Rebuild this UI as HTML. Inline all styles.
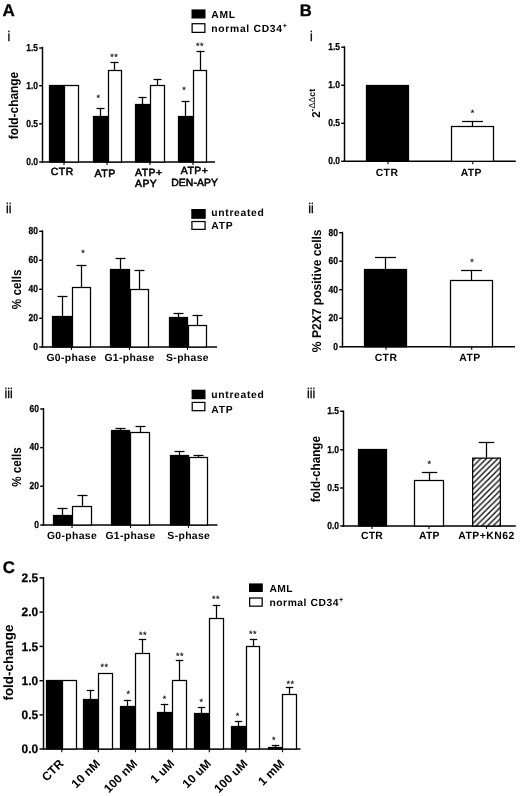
<!DOCTYPE html>
<html><head><meta charset="utf-8"><title>Figure</title>
<style>
html,body{margin:0;padding:0;background:#fff;}
body{width:520px;height:796px;overflow:hidden;font-family:"Liberation Sans",sans-serif;}
svg{display:block;will-change:transform;}
svg text{font-family:"Liberation Sans",sans-serif;fill:#000;text-rendering:geometricPrecision;}
</style></head><body>
<svg width="520" height="796" viewBox="0 0 520 796">
<rect x="0" y="0" width="520" height="796" fill="#fff"/>
<text transform="translate(2.5 16.2)" font-size="17" font-weight="bold" text-anchor="start" stroke="#000" stroke-width="0.3">A</text>
<text transform="translate(8.9 41.1) scale(0.88 1)" font-size="14" font-weight="normal" text-anchor="middle" stroke="#000" stroke-width="0.3">i</text>
<line x1="42.5" y1="46.775" x2="42.5" y2="162.725" stroke="#000" stroke-width="1.45"/>
<line x1="41.775" y1="162" x2="215" y2="162" stroke="#000" stroke-width="1.45"/>
<line x1="39.2" y1="48" x2="42.5" y2="48" stroke="#000" stroke-width="1.45"/>
<text transform="translate(38.0 50.84) scale(0.84 1)" font-size="10.1" font-weight="bold" text-anchor="end" stroke="#000" stroke-width="0.25">1.5</text>
<line x1="39.2" y1="85.7" x2="42.5" y2="85.7" stroke="#000" stroke-width="1.45"/>
<text transform="translate(38.0 88.54) scale(0.84 1)" font-size="10.1" font-weight="bold" text-anchor="end" stroke="#000" stroke-width="0.25">1.0</text>
<line x1="39.2" y1="123.8" x2="42.5" y2="123.8" stroke="#000" stroke-width="1.45"/>
<text transform="translate(38.0 126.64) scale(0.84 1)" font-size="10.1" font-weight="bold" text-anchor="end" stroke="#000" stroke-width="0.25">0.5</text>
<line x1="39.2" y1="162" x2="42.5" y2="162" stroke="#000" stroke-width="1.45"/>
<text transform="translate(38.0 164.84) scale(0.84 1)" font-size="10.1" font-weight="bold" text-anchor="end" stroke="#000" stroke-width="0.25">0.0</text>
<text transform="translate(18.2 105.5) rotate(-90) scale(0.915 1)" font-size="13" font-weight="bold" text-anchor="middle">fold-change</text>
<rect x="49.5" y="85.5" width="15.0" height="76.5" fill="#000" stroke="#000" stroke-width="1.25"/>
<rect x="64.5" y="85.5" width="14.0" height="76.5" fill="#fff" stroke="#000" stroke-width="1.25"/>
<line x1="100.5" y1="116.3" x2="100.5" y2="107.875" stroke="#000" stroke-width="1.25"/>
<line x1="96.5" y1="108.5" x2="104.5" y2="108.5" stroke="#000" stroke-width="1.25"/>
<rect x="93.5" y="116.5" width="14.0" height="45.5" fill="#000" stroke="#000" stroke-width="1.25"/>
<line x1="114.5" y1="70.5" x2="114.5" y2="61.875" stroke="#000" stroke-width="1.25"/>
<line x1="110.5" y1="62.5" x2="118.5" y2="62.5" stroke="#000" stroke-width="1.25"/>
<rect x="108.5" y="70.5" width="13.0" height="91.5" fill="#fff" stroke="#000" stroke-width="1.25"/>
<line x1="142.5" y1="104.8" x2="142.5" y2="96.875" stroke="#000" stroke-width="1.25"/>
<line x1="138.5" y1="97.5" x2="146.5" y2="97.5" stroke="#000" stroke-width="1.25"/>
<rect x="135.5" y="104.5" width="14.0" height="57.5" fill="#000" stroke="#000" stroke-width="1.25"/>
<line x1="157.5" y1="85.5" x2="157.5" y2="78.875" stroke="#000" stroke-width="1.25"/>
<line x1="153.5" y1="79.5" x2="161.5" y2="79.5" stroke="#000" stroke-width="1.25"/>
<rect x="150.5" y="85.5" width="14.0" height="76.5" fill="#fff" stroke="#000" stroke-width="1.25"/>
<line x1="185.5" y1="116.3" x2="185.5" y2="100.875" stroke="#000" stroke-width="1.25"/>
<line x1="181.5" y1="101.5" x2="189.5" y2="101.5" stroke="#000" stroke-width="1.25"/>
<rect x="178.5" y="116.5" width="14.0" height="45.5" fill="#000" stroke="#000" stroke-width="1.25"/>
<line x1="200.5" y1="70.5" x2="200.5" y2="50.875" stroke="#000" stroke-width="1.25"/>
<line x1="196.5" y1="51.5" x2="204.5" y2="51.5" stroke="#000" stroke-width="1.25"/>
<rect x="193.5" y="70.5" width="13.0" height="91.5" fill="#fff" stroke="#000" stroke-width="1.25"/>
<line x1="64" y1="162" x2="64" y2="164.9" stroke="#000" stroke-width="1.1"/>
<line x1="107" y1="162" x2="107" y2="164.9" stroke="#000" stroke-width="1.1"/>
<line x1="150" y1="162" x2="150" y2="164.9" stroke="#000" stroke-width="1.1"/>
<line x1="193" y1="162" x2="193" y2="164.9" stroke="#000" stroke-width="1.1"/>
<text transform="translate(98.3 101.1)" font-size="9" font-weight="normal" text-anchor="middle" stroke="#000" stroke-width="0.15">*</text>
<text transform="translate(114.3 60.4)" font-size="9" font-weight="normal" text-anchor="middle" letter-spacing="0.6" stroke="#000" stroke-width="0.15">**</text>
<text transform="translate(184 93.1)" font-size="9" font-weight="normal" text-anchor="middle" stroke="#000" stroke-width="0.15">*</text>
<text transform="translate(200 49.1)" font-size="9" font-weight="normal" text-anchor="middle" letter-spacing="0.6" stroke="#000" stroke-width="0.15">**</text>
<text transform="translate(62.2 175.4)" font-size="10.4" font-weight="normal" text-anchor="middle" letter-spacing="0.5" stroke="#000" stroke-width="0.55">CTR</text>
<text transform="translate(105.2 177)" font-size="10.700000000000001" font-weight="normal" text-anchor="middle" letter-spacing="0.5" stroke="#000" stroke-width="0.55">ATP</text>
<text transform="translate(135 176.1)" font-size="10.4" font-weight="normal" text-anchor="start" letter-spacing="0.5" stroke="#000" stroke-width="0.55">ATP+</text>
<text transform="translate(135 187.3)" font-size="10.4" font-weight="normal" text-anchor="start" letter-spacing="0.5" stroke="#000" stroke-width="0.55">APY</text>
<text transform="translate(194.6 174.4)" font-size="10.4" font-weight="normal" text-anchor="middle" letter-spacing="0.5" stroke="#000" stroke-width="0.55">ATP+</text>
<text transform="translate(194.6 186.2)" font-size="10.4" font-weight="normal" text-anchor="middle" letter-spacing="0.1" stroke="#000" stroke-width="0.55">DEN-APY</text>
<rect x="192.125" y="10.025" width="12.75" height="7.85" fill="#000" stroke="#000" stroke-width="1.25"/>
<rect x="192.125" y="23.725" width="12.75" height="8.65" fill="#fff" stroke="#000" stroke-width="1.25"/>
<text transform="translate(211.3 17.9)" font-size="10.3" font-weight="bold" text-anchor="start" letter-spacing="0.7">AML</text>
<text transform="translate(211.3 32.3)" font-size="10.3" font-weight="bold" text-anchor="start" letter-spacing="0.72">normal CD34<tspan font-size="7.2" dy="-4.4">+</tspan></text>
<text transform="translate(8.8 212.5) scale(0.88 1)" font-size="14" font-weight="normal" text-anchor="middle" stroke="#000" stroke-width="0.3">ii</text>
<line x1="42.5" y1="230.275" x2="42.5" y2="347.725" stroke="#000" stroke-width="1.45"/>
<line x1="41.775" y1="347" x2="217" y2="347" stroke="#000" stroke-width="1.45"/>
<line x1="39.2" y1="231.3" x2="42.5" y2="231.3" stroke="#000" stroke-width="1.45"/>
<text transform="translate(38.0 234.14) scale(0.84 1)" font-size="10.1" font-weight="bold" text-anchor="end" stroke="#000" stroke-width="0.25">80</text>
<line x1="39.2" y1="260.3" x2="42.5" y2="260.3" stroke="#000" stroke-width="1.45"/>
<text transform="translate(38.0 263.14) scale(0.84 1)" font-size="10.1" font-weight="bold" text-anchor="end" stroke="#000" stroke-width="0.25">60</text>
<line x1="39.2" y1="289.3" x2="42.5" y2="289.3" stroke="#000" stroke-width="1.45"/>
<text transform="translate(38.0 292.14) scale(0.84 1)" font-size="10.1" font-weight="bold" text-anchor="end" stroke="#000" stroke-width="0.25">40</text>
<line x1="39.2" y1="318.3" x2="42.5" y2="318.3" stroke="#000" stroke-width="1.45"/>
<text transform="translate(38.0 321.14) scale(0.84 1)" font-size="10.1" font-weight="bold" text-anchor="end" stroke="#000" stroke-width="0.25">20</text>
<line x1="39.2" y1="347" x2="42.5" y2="347" stroke="#000" stroke-width="1.45"/>
<text transform="translate(38.0 349.84) scale(0.84 1)" font-size="10.1" font-weight="bold" text-anchor="end" stroke="#000" stroke-width="0.25">0</text>
<text transform="translate(21 289.3) rotate(-90) scale(0.9 1)" font-size="13" font-weight="bold" text-anchor="middle">% cells</text>
<line x1="62.5" y1="316" x2="62.5" y2="295.875" stroke="#000" stroke-width="1.25"/>
<line x1="57.5" y1="296.5" x2="67.5" y2="296.5" stroke="#000" stroke-width="1.25"/>
<rect x="52.5" y="316.5" width="19.0" height="30.5" fill="#000" stroke="#000" stroke-width="1.25"/>
<line x1="81.5" y1="287" x2="81.5" y2="264.875" stroke="#000" stroke-width="1.25"/>
<line x1="76.5" y1="265.5" x2="86.5" y2="265.5" stroke="#000" stroke-width="1.25"/>
<rect x="72.5" y="287.5" width="18.0" height="59.5" fill="#fff" stroke="#000" stroke-width="1.25"/>
<line x1="120.5" y1="269" x2="120.5" y2="257.875" stroke="#000" stroke-width="1.25"/>
<line x1="115.5" y1="258.5" x2="125.5" y2="258.5" stroke="#000" stroke-width="1.25"/>
<rect x="110.5" y="269.5" width="19.0" height="77.5" fill="#000" stroke="#000" stroke-width="1.25"/>
<line x1="139.5" y1="289" x2="139.5" y2="269.875" stroke="#000" stroke-width="1.25"/>
<line x1="134.5" y1="270.5" x2="144.5" y2="270.5" stroke="#000" stroke-width="1.25"/>
<rect x="130.5" y="289.5" width="18.0" height="57.5" fill="#fff" stroke="#000" stroke-width="1.25"/>
<line x1="178.5" y1="317.5" x2="178.5" y2="312.875" stroke="#000" stroke-width="1.25"/>
<line x1="173.5" y1="313.5" x2="183.5" y2="313.5" stroke="#000" stroke-width="1.25"/>
<rect x="169.5" y="317.5" width="18.0" height="29.5" fill="#000" stroke="#000" stroke-width="1.25"/>
<line x1="197.5" y1="325.5" x2="197.5" y2="314.875" stroke="#000" stroke-width="1.25"/>
<line x1="192.5" y1="315.5" x2="202.5" y2="315.5" stroke="#000" stroke-width="1.25"/>
<rect x="188.5" y="325.5" width="18.0" height="21.5" fill="#fff" stroke="#000" stroke-width="1.25"/>
<line x1="71.5" y1="347" x2="71.5" y2="349.9" stroke="#000" stroke-width="1.1"/>
<line x1="129.5" y1="347" x2="129.5" y2="349.9" stroke="#000" stroke-width="1.1"/>
<line x1="187.5" y1="347" x2="187.5" y2="349.9" stroke="#000" stroke-width="1.1"/>
<text transform="translate(83 256.3)" font-size="9" font-weight="normal" text-anchor="middle" stroke="#000" stroke-width="0.15">*</text>
<text transform="translate(71.5 361.2)" font-size="10.4" font-weight="bold" text-anchor="middle" letter-spacing="0.35">G0-phase</text>
<text transform="translate(129.5 361.2)" font-size="10.4" font-weight="bold" text-anchor="middle" letter-spacing="0.35">G1-phase</text>
<text transform="translate(187.5 361.2)" font-size="10.4" font-weight="bold" text-anchor="middle" letter-spacing="0.35">S-phase</text>
<rect x="191.925" y="209.625" width="13.15" height="8.55" fill="#000" stroke="#000" stroke-width="1.25"/>
<rect x="191.925" y="221.525" width="13.15" height="7.85" fill="#fff" stroke="#000" stroke-width="1.25"/>
<text transform="translate(211.3 215.9)" font-size="10.3" font-weight="bold" text-anchor="start" letter-spacing="0.7">untreated</text>
<text transform="translate(211.3 229.2)" font-size="10.3" font-weight="bold" text-anchor="start" letter-spacing="0.72">ATP</text>
<text transform="translate(8.7 398.4) scale(0.88 1)" font-size="14" font-weight="normal" text-anchor="middle" stroke="#000" stroke-width="0.3">iii</text>
<line x1="43.5" y1="408.075" x2="43.5" y2="525.725" stroke="#000" stroke-width="1.45"/>
<line x1="42.775" y1="525" x2="217.5" y2="525" stroke="#000" stroke-width="1.45"/>
<line x1="40.2" y1="409" x2="43.5" y2="409" stroke="#000" stroke-width="1.45"/>
<text transform="translate(39.0 411.84) scale(0.84 1)" font-size="10.1" font-weight="bold" text-anchor="end" stroke="#000" stroke-width="0.25">60</text>
<line x1="40.2" y1="447.6" x2="43.5" y2="447.6" stroke="#000" stroke-width="1.45"/>
<text transform="translate(39.0 450.44) scale(0.84 1)" font-size="10.1" font-weight="bold" text-anchor="end" stroke="#000" stroke-width="0.25">40</text>
<line x1="40.2" y1="486.3" x2="43.5" y2="486.3" stroke="#000" stroke-width="1.45"/>
<text transform="translate(39.0 489.14) scale(0.84 1)" font-size="10.1" font-weight="bold" text-anchor="end" stroke="#000" stroke-width="0.25">20</text>
<line x1="40.2" y1="525" x2="43.5" y2="525" stroke="#000" stroke-width="1.45"/>
<text transform="translate(39.0 527.84) scale(0.84 1)" font-size="10.1" font-weight="bold" text-anchor="end" stroke="#000" stroke-width="0.25">0</text>
<text transform="translate(21 467) rotate(-90) scale(0.9 1)" font-size="13" font-weight="bold" text-anchor="middle">% cells</text>
<line x1="62.5" y1="515" x2="62.5" y2="507.875" stroke="#000" stroke-width="1.25"/>
<line x1="57.5" y1="508.5" x2="67.5" y2="508.5" stroke="#000" stroke-width="1.25"/>
<rect x="53.5" y="515.5" width="18.0" height="9.5" fill="#000" stroke="#000" stroke-width="1.25"/>
<line x1="82.5" y1="506.5" x2="82.5" y2="494.875" stroke="#000" stroke-width="1.25"/>
<line x1="77.5" y1="495.5" x2="87.5" y2="495.5" stroke="#000" stroke-width="1.25"/>
<rect x="72.5" y="506.5" width="19.0" height="18.5" fill="#fff" stroke="#000" stroke-width="1.25"/>
<line x1="120.5" y1="430.5" x2="120.5" y2="427.875" stroke="#000" stroke-width="1.25"/>
<line x1="115.5" y1="428.5" x2="125.5" y2="428.5" stroke="#000" stroke-width="1.25"/>
<rect x="111.5" y="430.5" width="18.0" height="94.5" fill="#000" stroke="#000" stroke-width="1.25"/>
<line x1="140.5" y1="432.5" x2="140.5" y2="425.875" stroke="#000" stroke-width="1.25"/>
<line x1="135.5" y1="426.5" x2="145.5" y2="426.5" stroke="#000" stroke-width="1.25"/>
<rect x="130.5" y="432.5" width="19.0" height="92.5" fill="#fff" stroke="#000" stroke-width="1.25"/>
<line x1="179.5" y1="455" x2="179.5" y2="450.875" stroke="#000" stroke-width="1.25"/>
<line x1="174.5" y1="451.5" x2="184.5" y2="451.5" stroke="#000" stroke-width="1.25"/>
<rect x="170.5" y="455.5" width="18.0" height="69.5" fill="#000" stroke="#000" stroke-width="1.25"/>
<line x1="198.5" y1="457.5" x2="198.5" y2="454.875" stroke="#000" stroke-width="1.25"/>
<line x1="193.5" y1="455.5" x2="203.5" y2="455.5" stroke="#000" stroke-width="1.25"/>
<rect x="189.5" y="457.5" width="18.0" height="67.5" fill="#fff" stroke="#000" stroke-width="1.25"/>
<line x1="72" y1="525" x2="72" y2="527.9" stroke="#000" stroke-width="1.1"/>
<line x1="130.5" y1="525" x2="130.5" y2="527.9" stroke="#000" stroke-width="1.1"/>
<line x1="188.5" y1="525" x2="188.5" y2="527.9" stroke="#000" stroke-width="1.1"/>
<text transform="translate(72 538.8)" font-size="10.4" font-weight="bold" text-anchor="middle" letter-spacing="0.35">G0-phase</text>
<text transform="translate(130.5 538.8)" font-size="10.4" font-weight="bold" text-anchor="middle" letter-spacing="0.35">G1-phase</text>
<text transform="translate(188.8 538.8)" font-size="10.4" font-weight="bold" text-anchor="middle" letter-spacing="0.35">S-phase</text>
<rect x="192.225" y="390.325" width="12.65" height="8.25" fill="#000" stroke="#000" stroke-width="1.25"/>
<rect x="192.225" y="402.425" width="12.65" height="8.25" fill="#fff" stroke="#000" stroke-width="1.25"/>
<text transform="translate(211.3 398.2)" font-size="10.3" font-weight="bold" text-anchor="start" letter-spacing="0.7">untreated</text>
<text transform="translate(211.3 412.7)" font-size="10.3" font-weight="bold" text-anchor="start" letter-spacing="0.72">ATP</text>
<text transform="translate(299.7 16.1)" font-size="16.6" font-weight="bold" text-anchor="start" stroke="#000" stroke-width="0.3">B</text>
<text transform="translate(311.3 41.1) scale(0.88 1)" font-size="14" font-weight="normal" text-anchor="middle" stroke="#000" stroke-width="0.3">i</text>
<line x1="344.5" y1="46.275" x2="344.5" y2="162.025" stroke="#000" stroke-width="1.45"/>
<line x1="343.775" y1="161.3" x2="515.8" y2="161.3" stroke="#000" stroke-width="1.45"/>
<line x1="341.2" y1="47.2" x2="344.5" y2="47.2" stroke="#000" stroke-width="1.45"/>
<text transform="translate(340.0 50.04) scale(0.84 1)" font-size="10.1" font-weight="bold" text-anchor="end" stroke="#000" stroke-width="0.25">1.5</text>
<line x1="341.2" y1="85.3" x2="344.5" y2="85.3" stroke="#000" stroke-width="1.45"/>
<text transform="translate(340.0 88.14) scale(0.84 1)" font-size="10.1" font-weight="bold" text-anchor="end" stroke="#000" stroke-width="0.25">1.0</text>
<line x1="341.2" y1="123.3" x2="344.5" y2="123.3" stroke="#000" stroke-width="1.45"/>
<text transform="translate(340.0 126.14) scale(0.84 1)" font-size="10.1" font-weight="bold" text-anchor="end" stroke="#000" stroke-width="0.25">0.5</text>
<line x1="341.2" y1="161.3" x2="344.5" y2="161.3" stroke="#000" stroke-width="1.45"/>
<text transform="translate(340.0 164.14) scale(0.84 1)" font-size="10.1" font-weight="bold" text-anchor="end" stroke="#000" stroke-width="0.25">0.0</text>
<text transform="translate(320 103.4) rotate(-90)" font-size="11.5" font-weight="bold" text-anchor="middle">2<tspan font-size="8.8" dy="-5.4">-<tspan font-weight="normal">&#916;&#916;</tspan>ct</tspan></text>
<rect x="366.5" y="85.5" width="42.0" height="75.8" fill="#000" stroke="#000" stroke-width="1.25"/>
<line x1="472.5" y1="126.3" x2="472.5" y2="120.875" stroke="#000" stroke-width="1.25"/>
<line x1="462.0" y1="121.5" x2="483.0" y2="121.5" stroke="#000" stroke-width="1.25"/>
<rect x="451.5" y="126.5" width="42.0" height="34.8" fill="#fff" stroke="#000" stroke-width="1.25"/>
<line x1="388" y1="161.3" x2="388" y2="164.20000000000002" stroke="#000" stroke-width="1.1"/>
<line x1="472.8" y1="161.3" x2="472.8" y2="164.20000000000002" stroke="#000" stroke-width="1.1"/>
<text transform="translate(472.5 115.89999999999999)" font-size="9" font-weight="normal" text-anchor="middle" stroke="#000" stroke-width="0.15">*</text>
<text transform="translate(387 175.5)" font-size="10.4" font-weight="bold" text-anchor="middle" letter-spacing="0.45">CTR</text>
<text transform="translate(471.3 175.5)" font-size="10.4" font-weight="bold" text-anchor="middle" letter-spacing="0.45">ATP</text>
<text transform="translate(311.1 212.5) scale(0.88 1)" font-size="14" font-weight="normal" text-anchor="middle" stroke="#000" stroke-width="0.3">ii</text>
<line x1="342.5" y1="231.775" x2="342.5" y2="347.52500000000003" stroke="#000" stroke-width="1.45"/>
<line x1="341.775" y1="346.8" x2="515" y2="346.8" stroke="#000" stroke-width="1.45"/>
<line x1="339.2" y1="232.7" x2="342.5" y2="232.7" stroke="#000" stroke-width="1.45"/>
<text transform="translate(338.0 235.54) scale(0.84 1)" font-size="10.1" font-weight="bold" text-anchor="end" stroke="#000" stroke-width="0.25">80</text>
<line x1="339.2" y1="261.2" x2="342.5" y2="261.2" stroke="#000" stroke-width="1.45"/>
<text transform="translate(338.0 264.04) scale(0.84 1)" font-size="10.1" font-weight="bold" text-anchor="end" stroke="#000" stroke-width="0.25">60</text>
<line x1="339.2" y1="289.7" x2="342.5" y2="289.7" stroke="#000" stroke-width="1.45"/>
<text transform="translate(338.0 292.54) scale(0.84 1)" font-size="10.1" font-weight="bold" text-anchor="end" stroke="#000" stroke-width="0.25">40</text>
<line x1="339.2" y1="318.3" x2="342.5" y2="318.3" stroke="#000" stroke-width="1.45"/>
<text transform="translate(338.0 321.14) scale(0.84 1)" font-size="10.1" font-weight="bold" text-anchor="end" stroke="#000" stroke-width="0.25">20</text>
<line x1="339.2" y1="346.8" x2="342.5" y2="346.8" stroke="#000" stroke-width="1.45"/>
<text transform="translate(338.0 349.64) scale(0.84 1)" font-size="10.1" font-weight="bold" text-anchor="end" stroke="#000" stroke-width="0.25">0</text>
<text transform="translate(321.2 290.8) rotate(-90) scale(0.943 1)" font-size="12.8" font-weight="bold" text-anchor="middle">% P2X7 positive cells</text>
<line x1="385.5" y1="269.3" x2="385.5" y2="256.875" stroke="#000" stroke-width="1.25"/>
<line x1="375.0" y1="257.5" x2="396.0" y2="257.5" stroke="#000" stroke-width="1.25"/>
<rect x="364.5" y="269.5" width="42.0" height="77.3" fill="#000" stroke="#000" stroke-width="1.25"/>
<line x1="471.5" y1="280.8" x2="471.5" y2="269.875" stroke="#000" stroke-width="1.25"/>
<line x1="461.0" y1="270.5" x2="482.0" y2="270.5" stroke="#000" stroke-width="1.25"/>
<rect x="450.5" y="280.5" width="42.0" height="66.3" fill="#fff" stroke="#000" stroke-width="1.25"/>
<line x1="386" y1="346.8" x2="386" y2="349.7" stroke="#000" stroke-width="1.1"/>
<line x1="471.7" y1="346.8" x2="471.7" y2="349.7" stroke="#000" stroke-width="1.1"/>
<text transform="translate(472 264.6)" font-size="9" font-weight="normal" text-anchor="middle" stroke="#000" stroke-width="0.15">*</text>
<text transform="translate(386 360.5)" font-size="10.4" font-weight="bold" text-anchor="middle" letter-spacing="0.45">CTR</text>
<text transform="translate(470 360.5)" font-size="10.4" font-weight="bold" text-anchor="middle" letter-spacing="0.45">ATP</text>
<text transform="translate(311.2 398.4) scale(0.88 1)" font-size="14" font-weight="normal" text-anchor="middle" stroke="#000" stroke-width="0.3">iii</text>
<line x1="343.5" y1="410.575" x2="343.5" y2="526.725" stroke="#000" stroke-width="1.45"/>
<line x1="342.775" y1="526" x2="515.8" y2="526" stroke="#000" stroke-width="1.45"/>
<line x1="340.2" y1="411.3" x2="343.5" y2="411.3" stroke="#000" stroke-width="1.45"/>
<text transform="translate(339.0 414.14) scale(0.84 1)" font-size="10.1" font-weight="bold" text-anchor="end" stroke="#000" stroke-width="0.25">1.5</text>
<line x1="340.2" y1="449.8" x2="343.5" y2="449.8" stroke="#000" stroke-width="1.45"/>
<text transform="translate(339.0 452.64) scale(0.84 1)" font-size="10.1" font-weight="bold" text-anchor="end" stroke="#000" stroke-width="0.25">1.0</text>
<line x1="340.2" y1="488" x2="343.5" y2="488" stroke="#000" stroke-width="1.45"/>
<text transform="translate(339.0 490.84) scale(0.84 1)" font-size="10.1" font-weight="bold" text-anchor="end" stroke="#000" stroke-width="0.25">0.5</text>
<line x1="340.2" y1="526" x2="343.5" y2="526" stroke="#000" stroke-width="1.45"/>
<text transform="translate(339.0 528.84) scale(0.84 1)" font-size="10.1" font-weight="bold" text-anchor="end" stroke="#000" stroke-width="0.25">0.0</text>
<text transform="translate(319.6 469.2) rotate(-90) scale(0.9 1)" font-size="13" font-weight="bold" text-anchor="middle">fold-change</text>
<rect x="358.5" y="449.5" width="28.0" height="76.5" fill="#000" stroke="#000" stroke-width="1.25"/>
<line x1="429.5" y1="480.5" x2="429.5" y2="471.875" stroke="#000" stroke-width="1.25"/>
<line x1="421.75" y1="472.5" x2="437.25" y2="472.5" stroke="#000" stroke-width="1.25"/>
<rect x="414.5" y="480.5" width="29.0" height="45.5" fill="#fff" stroke="#000" stroke-width="1.25"/>
<defs><pattern id="h" width="5.7" height="5.7" patternUnits="userSpaceOnUse" patternTransform="translate(4.5 0)"><rect width="5.7" height="5.7" fill="#fff"/><path d="M-1,1 L1,-1 M-1,6.7 L6.7,-1 M4.7,6.7 L6.7,4.7" stroke="#000" stroke-width="1.3"/></pattern></defs>
<line x1="486.5" y1="457.5" x2="486.5" y2="442.5" stroke="#000" stroke-width="1.25"/>
<line x1="478.7" y1="442.5" x2="494.3" y2="442.5" stroke="#000" stroke-width="1.25"/>
<rect x="472.625" y="458.125" width="27.75" height="67.88" fill="url(#h)" stroke="#000" stroke-width="1.25"/>
<line x1="372" y1="526" x2="372" y2="528.9" stroke="#000" stroke-width="1.1"/>
<line x1="429" y1="526" x2="429" y2="528.9" stroke="#000" stroke-width="1.1"/>
<line x1="486.5" y1="526" x2="486.5" y2="528.9" stroke="#000" stroke-width="1.1"/>
<text transform="translate(429.3 467.40000000000003)" font-size="9" font-weight="normal" text-anchor="middle" stroke="#000" stroke-width="0.15">*</text>
<text transform="translate(372 539.4)" font-size="10.4" font-weight="bold" text-anchor="middle" letter-spacing="0.2">CTR</text>
<text transform="translate(429.3 539.4)" font-size="10.4" font-weight="bold" text-anchor="middle" letter-spacing="0.2">ATP</text>
<text transform="translate(486.5 539.4)" font-size="10.4" font-weight="bold" text-anchor="middle" letter-spacing="0.5">ATP+KN62</text>
<text transform="translate(2.7 573.1)" font-size="16.8" font-weight="bold" text-anchor="start" stroke="#000" stroke-width="0.3">C</text>
<line x1="43.5" y1="577.0749999999999" x2="43.5" y2="749.725" stroke="#000" stroke-width="1.45"/>
<line x1="42.775" y1="749" x2="300.5" y2="749" stroke="#000" stroke-width="1.45"/>
<line x1="39.5" y1="577.9" x2="43.5" y2="577.9" stroke="#000" stroke-width="1.45"/>
<text transform="translate(38.1 582.13) scale(0.97 1)" font-size="12.3" font-weight="bold" text-anchor="end" stroke="#000" stroke-width="0.25">2.5</text>
<line x1="39.5" y1="612.1" x2="43.5" y2="612.1" stroke="#000" stroke-width="1.45"/>
<text transform="translate(38.1 616.33) scale(0.97 1)" font-size="12.3" font-weight="bold" text-anchor="end" stroke="#000" stroke-width="0.25">2.0</text>
<line x1="39.5" y1="646.4" x2="43.5" y2="646.4" stroke="#000" stroke-width="1.45"/>
<text transform="translate(38.1 650.63) scale(0.97 1)" font-size="12.3" font-weight="bold" text-anchor="end" stroke="#000" stroke-width="0.25">1.5</text>
<line x1="39.5" y1="680.7" x2="43.5" y2="680.7" stroke="#000" stroke-width="1.45"/>
<text transform="translate(38.1 684.93) scale(0.97 1)" font-size="12.3" font-weight="bold" text-anchor="end" stroke="#000" stroke-width="0.25">1.0</text>
<line x1="39.5" y1="714.9" x2="43.5" y2="714.9" stroke="#000" stroke-width="1.45"/>
<text transform="translate(38.1 719.13) scale(0.97 1)" font-size="12.3" font-weight="bold" text-anchor="end" stroke="#000" stroke-width="0.25">0.5</text>
<line x1="39.5" y1="749" x2="43.5" y2="749" stroke="#000" stroke-width="1.45"/>
<text transform="translate(38.1 753.23) scale(0.97 1)" font-size="12.3" font-weight="bold" text-anchor="end" stroke="#000" stroke-width="0.25">0.0</text>
<text transform="translate(13.3 662.6) rotate(-90)" font-size="13.4" font-weight="bold" text-anchor="middle">fold-change</text>
<rect x="46.5" y="680.5" width="15.0" height="68.5" fill="#000" stroke="#000" stroke-width="1.25"/>
<rect x="62.5" y="680.5" width="14.0" height="68.5" fill="#fff" stroke="#000" stroke-width="1.25"/>
<line x1="61.8" y1="749" x2="61.8" y2="752.2" stroke="#000" stroke-width="1.1"/>
<text transform="translate(64.39999999999999 764.2) rotate(-45)" font-size="12" font-weight="bold" text-anchor="end" letter-spacing="0.15">CTR</text>
<line x1="90.5" y1="699" x2="90.5" y2="689.875" stroke="#000" stroke-width="1.25"/>
<line x1="86.75" y1="690.5" x2="94.25" y2="690.5" stroke="#000" stroke-width="1.25"/>
<rect x="83.5" y="699.5" width="14.0" height="49.5" fill="#000" stroke="#000" stroke-width="1.25"/>
<rect x="98.5" y="673.5" width="14.0" height="75.5" fill="#fff" stroke="#000" stroke-width="1.25"/>
<line x1="98.3" y1="749" x2="98.3" y2="752.2" stroke="#000" stroke-width="1.1"/>
<text transform="translate(100.89999999999999 764.2) rotate(-45)" font-size="12" font-weight="bold" text-anchor="end" letter-spacing="0.15">10 nM</text>
<line x1="127.5" y1="706.5" x2="127.5" y2="699.875" stroke="#000" stroke-width="1.25"/>
<line x1="123.75" y1="700.5" x2="131.25" y2="700.5" stroke="#000" stroke-width="1.25"/>
<rect x="120.5" y="706.5" width="14.0" height="42.5" fill="#000" stroke="#000" stroke-width="1.25"/>
<line x1="142.5" y1="653.3" x2="142.5" y2="638.875" stroke="#000" stroke-width="1.25"/>
<line x1="138.75" y1="639.5" x2="146.25" y2="639.5" stroke="#000" stroke-width="1.25"/>
<rect x="135.5" y="653.5" width="14.0" height="95.5" fill="#fff" stroke="#000" stroke-width="1.25"/>
<line x1="135.5" y1="749" x2="135.5" y2="752.2" stroke="#000" stroke-width="1.1"/>
<text transform="translate(138.1 764.2) rotate(-45)" font-size="12" font-weight="bold" text-anchor="end" letter-spacing="0.15">100 nM</text>
<line x1="164.5" y1="712.8" x2="164.5" y2="703.875" stroke="#000" stroke-width="1.25"/>
<line x1="160.75" y1="704.5" x2="168.25" y2="704.5" stroke="#000" stroke-width="1.25"/>
<rect x="157.5" y="712.5" width="14.0" height="36.5" fill="#000" stroke="#000" stroke-width="1.25"/>
<line x1="179.5" y1="680.8" x2="179.5" y2="659.875" stroke="#000" stroke-width="1.25"/>
<line x1="175.75" y1="660.5" x2="183.25" y2="660.5" stroke="#000" stroke-width="1.25"/>
<rect x="172.5" y="680.5" width="14.0" height="68.5" fill="#fff" stroke="#000" stroke-width="1.25"/>
<line x1="172.5" y1="749" x2="172.5" y2="752.2" stroke="#000" stroke-width="1.1"/>
<text transform="translate(175.1 764.2) rotate(-45)" font-size="12" font-weight="bold" text-anchor="end" letter-spacing="0.15">1 uM</text>
<line x1="201.5" y1="713.5" x2="201.5" y2="706.875" stroke="#000" stroke-width="1.25"/>
<line x1="197.75" y1="707.5" x2="205.25" y2="707.5" stroke="#000" stroke-width="1.25"/>
<rect x="194.5" y="713.5" width="14.0" height="35.5" fill="#000" stroke="#000" stroke-width="1.25"/>
<line x1="216.5" y1="618.8" x2="216.5" y2="604.875" stroke="#000" stroke-width="1.25"/>
<line x1="212.75" y1="605.5" x2="220.25" y2="605.5" stroke="#000" stroke-width="1.25"/>
<rect x="209.5" y="618.5" width="14.0" height="130.5" fill="#fff" stroke="#000" stroke-width="1.25"/>
<line x1="209.3" y1="749" x2="209.3" y2="752.2" stroke="#000" stroke-width="1.1"/>
<text transform="translate(211.9 764.2) rotate(-45)" font-size="12" font-weight="bold" text-anchor="end" letter-spacing="0.15">10 uM</text>
<line x1="238.5" y1="726.5" x2="238.5" y2="720.875" stroke="#000" stroke-width="1.25"/>
<line x1="234.75" y1="721.5" x2="242.25" y2="721.5" stroke="#000" stroke-width="1.25"/>
<rect x="231.5" y="726.5" width="14.0" height="22.5" fill="#000" stroke="#000" stroke-width="1.25"/>
<line x1="253.5" y1="646.3" x2="253.5" y2="638.875" stroke="#000" stroke-width="1.25"/>
<line x1="249.75" y1="639.5" x2="257.25" y2="639.5" stroke="#000" stroke-width="1.25"/>
<rect x="246.5" y="646.5" width="13.0" height="102.5" fill="#fff" stroke="#000" stroke-width="1.25"/>
<line x1="245.8" y1="749" x2="245.8" y2="752.2" stroke="#000" stroke-width="1.1"/>
<text transform="translate(248.4 764.2) rotate(-45)" font-size="12" font-weight="bold" text-anchor="end" letter-spacing="0.15">100 uM</text>
<line x1="275.5" y1="747.3" x2="275.5" y2="744.875" stroke="#000" stroke-width="1.25"/>
<line x1="271.75" y1="745.5" x2="279.25" y2="745.5" stroke="#000" stroke-width="1.25"/>
<rect x="268.5" y="747.5" width="13.0" height="1.5" fill="#000" stroke="#000" stroke-width="1.25"/>
<line x1="289.5" y1="694.5" x2="289.5" y2="686.875" stroke="#000" stroke-width="1.25"/>
<line x1="285.75" y1="687.5" x2="293.25" y2="687.5" stroke="#000" stroke-width="1.25"/>
<rect x="282.5" y="694.5" width="14.0" height="54.5" fill="#fff" stroke="#000" stroke-width="1.25"/>
<line x1="282.5" y1="749" x2="282.5" y2="752.2" stroke="#000" stroke-width="1.1"/>
<text transform="translate(285.1 764.2) rotate(-45)" font-size="12" font-weight="bold" text-anchor="end" letter-spacing="0.15">1 mM</text>
<text transform="translate(104.5 669.9)" font-size="9" font-weight="normal" text-anchor="middle" letter-spacing="0.6" stroke="#000" stroke-width="0.15">**</text>
<text transform="translate(128.3 696.7)" font-size="9" font-weight="normal" text-anchor="middle" stroke="#000" stroke-width="0.15">*</text>
<text transform="translate(143 638.1)" font-size="9" font-weight="normal" text-anchor="middle" letter-spacing="0.6" stroke="#000" stroke-width="0.15">**</text>
<text transform="translate(164.5 702.4)" font-size="9" font-weight="normal" text-anchor="middle" stroke="#000" stroke-width="0.15">*</text>
<text transform="translate(180 658.6)" font-size="9" font-weight="normal" text-anchor="middle" letter-spacing="0.6" stroke="#000" stroke-width="0.15">**</text>
<text transform="translate(201.3 704.9)" font-size="9" font-weight="normal" text-anchor="middle" stroke="#000" stroke-width="0.15">*</text>
<text transform="translate(216 601.6)" font-size="9" font-weight="normal" text-anchor="middle" letter-spacing="0.6" stroke="#000" stroke-width="0.15">**</text>
<text transform="translate(237.5 718.6)" font-size="9" font-weight="normal" text-anchor="middle" stroke="#000" stroke-width="0.15">*</text>
<text transform="translate(253 636.9)" font-size="9" font-weight="normal" text-anchor="middle" letter-spacing="0.6" stroke="#000" stroke-width="0.15">**</text>
<text transform="translate(273.8 742.9)" font-size="9" font-weight="normal" text-anchor="middle" stroke="#000" stroke-width="0.15">*</text>
<text transform="translate(290.5 687.4)" font-size="9" font-weight="normal" text-anchor="middle" letter-spacing="0.6" stroke="#000" stroke-width="0.15">**</text>
<rect x="249.625" y="584.025" width="12.55" height="7.35" fill="#000" stroke="#000" stroke-width="1.25"/>
<rect x="249.625" y="598.025" width="12.55" height="8.15" fill="#fff" stroke="#000" stroke-width="1.25"/>
<text transform="translate(269.4 591.6)" font-size="10.3" font-weight="bold" text-anchor="start" letter-spacing="0.4">AML</text>
<text transform="translate(269.4 606)" font-size="10.3" font-weight="bold" text-anchor="start" letter-spacing="0.55">normal CD34<tspan font-size="7.2" dy="-4.4">+</tspan></text>
</svg>
</body></html>
